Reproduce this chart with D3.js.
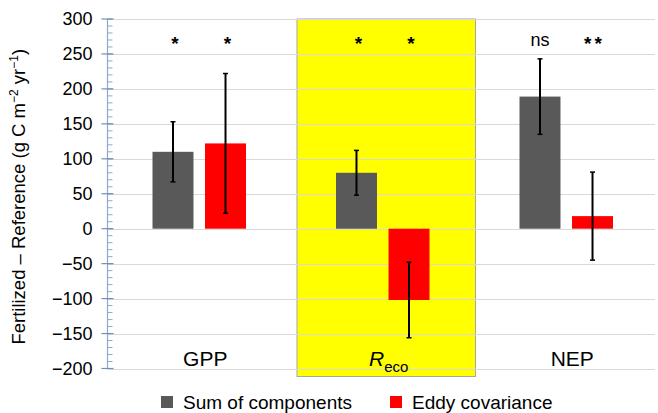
<!DOCTYPE html>
<html>
<head>
<meta charset="utf-8">
<script src="https://cdn.jsdelivr.net/npm/d3@7"></script>
<style>
  body { margin: 0; background: #fff; }
  text { font-family: "Liberation Sans", Arial, sans-serif; fill: #000; }
</style>
</head>
<body>
<div id="chart"></div>
<script>
// chart data
const categories = ['GPP', 'Reco', 'NEP'];
const series = ['Sum of components', 'Eddy covariance'];
const sumValues = [110, 80, 189];
const sumErrors = [43, 32, 54];
const eddyValues = [122, -102, 18];
const eddyErrors = [100, 54, 63];
const sumSignif = ['*', '*', 'ns'];
const eddySignif = ['*', '*', '**'];
const yTicks = [-200, -150, -100, -50, 0, 50, 100, 150, 200, 250, 300];
const highlighted = 'Reco';

const colors = { 'Sum of components': '#595959', 'Eddy covariance': '#ff0000' };

const width = 658, height = 413;
const margin = { top: 19, right: 0, bottom: 44, left: 107.5 };

const svg = d3.select('#chart').append('svg')
  .attr('width', width)
  .attr('height', height);

const rows = categories.map((c, i) => ({
  cat: c,
  bars: [
    { s: series[0], v: sumValues[i], e: sumErrors[i], sig: sumSignif[i] },
    { s: series[1], v: eddyValues[i], e: eddyErrors[i], sig: eddySignif[i] }
  ]
}));

let x0 = d3.scaleBand()
  .domain(categories)
  .range([margin.left, width - margin.right]);

let x1 = d3.scaleBand()
  .domain(series)
  .range([45, 45 + 93.5])
  .paddingInner(0.22);

let y = d3.scaleLinear()
  .domain([-200, 300])
  .range([height - margin.bottom - 0.5, margin.top]);

// highlighted category background
svg.append('rect')
  .attr('x', x0(highlighted) + 6)
  .attr('y', y(300))
  .attr('width', x0.bandwidth() - 5)
  .attr('height', y(-200) - y(300) + 8)
  .attr('fill', '#ffff00')
  .attr('stroke', '#a6a6a6')
  .attr('stroke-width', 1);

// gridlines
svg.append('g')
  .selectAll('line')
  .data(yTicks)
  .enter().append('line')
  .attr('x1', margin.left)
  .attr('x2', width - 3)
  .attr('y1', d => Math.round(y(d)) + 0.5)
  .attr('y2', d => Math.round(y(d)) + 0.5)
  .attr('stroke', '#d9d9d9')
  .attr('stroke-width', 1);

// bars
let g = svg.selectAll('.cat')
  .data(rows)
  .enter().append('g')
  .attr('class', 'cat')
  .attr('transform', d => `translate(${x0(d.cat)},0)`);

let bar = g.selectAll('.bar')
  .data(d => d.bars)
  .enter().append('g')
  .attr('class', 'bar');

bar.append('rect')
  .attr('x', d => x1(d.s))
  .attr('width', x1.bandwidth())
  .attr('y', d => y(Math.max(0, d.v)))
  .attr('height', d => Math.abs(y(d.v) - y(0)))
  .attr('fill', d => colors[d.s]);

// error bars
bar.append('line')
  .attr('x1', d => x1(d.s) + x1.bandwidth() / 2)
  .attr('x2', d => x1(d.s) + x1.bandwidth() / 2)
  .attr('y1', d => y(d.v + d.e))
  .attr('y2', d => y(d.v - d.e))
  .attr('stroke', '#000')
  .attr('stroke-width', 2);

[1, -1].forEach(sign => {
  bar.append('line')
    .attr('x1', d => x1(d.s) + x1.bandwidth() / 2 - 2.5)
    .attr('x2', d => x1(d.s) + x1.bandwidth() / 2 + 2.5)
    .attr('y1', d => y(d.v + sign * d.e))
    .attr('y2', d => y(d.v + sign * d.e))
    .attr('stroke', '#000')
    .attr('stroke-width', 1.5);
});

// significance labels
bar.append('text')
  .attr('x', d => x1(d.s) + x1.bandwidth() / 2 + (d.sig === 'ns' ? 0 : 2))
  .attr('y', d => d.sig === 'ns' ? y(262) : y(256))
  .attr('text-anchor', 'middle')
  .style('font-size', d => d.sig === 'ns' ? '18px' : '19px')
  .style('font-weight', d => d.sig === 'ns' ? 'normal' : 'bold')
  .style('letter-spacing', d => d.sig === '**' ? '3px' : '0px')
  .text(d => d.sig);

// category labels
g.append('text')
  .attr('x', x0.bandwidth() / 2 + 6)
  .attr('y', y(-200) - 3)
  .attr('text-anchor', 'middle')
  .style('font-size', '21px')
  .each(function(d) {
    let t = d3.select(this);
    if (d.cat === 'Reco') {
      t.append('tspan').style('font-style', 'italic').text('R');
      t.append('tspan').attr('dy', 6).style('font-size', '15px').text('eco');
    } else {
      t.text(d.cat);
    }
  });

// y axis
let axis = svg.append('g')
  .attr('transform', `translate(${margin.left},0)`);

axis.append('line')
  .attr('y1', y(300))
  .attr('y2', y(-200))
  .attr('stroke', '#8eaacb')
  .attr('stroke-width', 1.2);

axis.selectAll('.minor')
  .data(d3.range(-200, 301, 10))
  .enter().append('line')
  .attr('x1', 0)
  .attr('x2', 5)
  .attr('y1', d => y(d))
  .attr('y2', d => y(d))
  .attr('stroke', '#8eaacb')
  .attr('stroke-width', 1);

axis.selectAll('.major')
  .data(yTicks)
  .enter().append('line')
  .attr('x1', -6)
  .attr('x2', 6)
  .attr('y1', d => y(d))
  .attr('y2', d => y(d))
  .attr('stroke', '#6f8fb8')
  .attr('stroke-width', 1.2);

axis.selectAll('.tick-label')
  .data(yTicks)
  .enter().append('text')
  .attr('x', -15)
  .attr('y', d => y(d))
  .attr('dy', '0.35em')
  .attr('text-anchor', 'end')
  .style('font-size', '18px')
  .text(d => d < 0 ? '\u2212' + Math.abs(d) : d);

// y title
let title = svg.append('text')
  .attr('transform', `translate(25,${(y(300) + y(-200)) / 2 + 3}) rotate(-90)`)
  .attr('text-anchor', 'middle')
  .style('font-size', '18.5px');
title.append('tspan').text('Fertilized \u2013 Reference (g C m');
title.append('tspan').attr('dy', -7).style('font-size', '12px').text('\u22122');
title.append('tspan').attr('dy', 7).text(' yr');
title.append('tspan').attr('dy', -7).style('font-size', '12px').text('\u22121');
title.append('tspan').attr('dy', 7).text(')');

// legend
let legendX = [161, 390];
let legend = svg.selectAll('.legend')
  .data(series)
  .enter().append('g')
  .attr('class', 'legend')
  .attr('transform', (d, i) => `translate(${legendX[i]},396)`);

legend.append('rect')
  .attr('width', 12)
  .attr('height', 12)
  .attr('fill', d => colors[d]);

legend.append('text')
  .attr('x', 22)
  .attr('y', 13)
  .style('font-size', '19px')
  .text(d => d);
</script>
</body>
</html>
